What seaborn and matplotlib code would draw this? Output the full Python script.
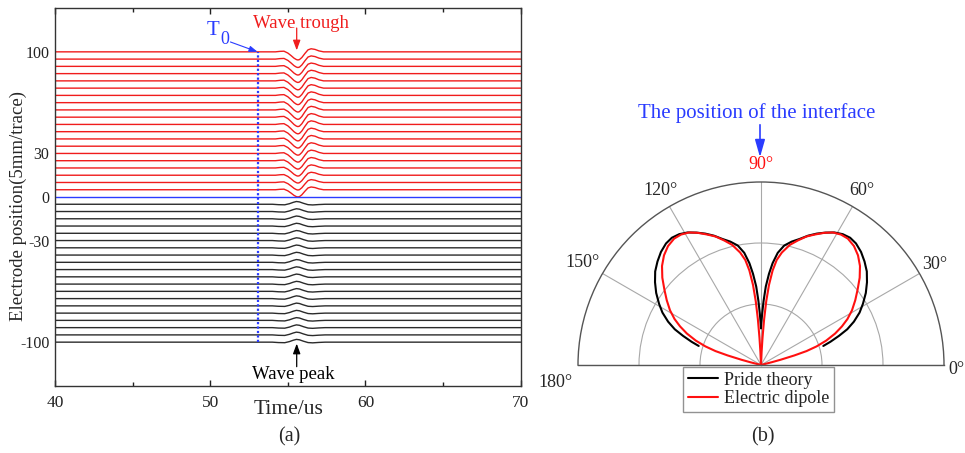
import numpy as np
import pandas as pd
import seaborn as sns
import matplotlib.pyplot as plt
from matplotlib.lines import Line2D
from matplotlib.patches import FancyArrowPatch
from matplotlib.ticker import FixedLocator

sns.set_style('white')
plt.rcParams['font.family'] = ['Liberation Serif', 'DejaVu Serif']
plt.rcParams['axes.unicode_minus'] = False

RED = '#f01c1c'
BLUE = '#2a3cff'
BLACK = '#2b2b2b'

# (a) electrode traces, one every 5 mm
upper_pos = [100, 95, 90, 85, 80, 75, 70, 65, 60, 55, 50, 45, 40, 35, 30, 25, 20, 15, 10, 5]
lower_pos = [-5, -10, -15, -20, -25, -30, -35, -40, -45, -50, -55, -60, -65, -70, -75, -80, -85, -90, -95, -100]
upper_amp = [5.6, 5.8, 6.0, 6.1, 6.2, 6.3, 6.4, 6.5, 6.5, 6.5, 6.5, 6.4, 6.3, 6.2, 6.0, 5.8, 5.6, 5.4, 5.2, 5.0]
lower_amp = [1.9, 1.9, 1.9, 1.9, 1.9, 1.9, 1.9, 1.9, 1.9, 1.9, 1.9, 1.9, 1.9, 1.9, 1.9, 1.9, 1.9, 1.9, 1.9, 1.9]

# pulse shapes (trough / peak scaled to 1)
trough_t = [40, 54.2, 54.5, 54.75, 55.0, 55.2, 55.4, 55.55, 55.65, 55.75, 55.9, 56.1, 56.3, 56.5, 56.75, 57.0, 57.3, 70]
trough_v = [0, 0, 0.06, 0.08, -0.15, -0.45, -0.78, -0.95, -1.0, -0.95, -0.7, -0.2, 0.25, 0.38, 0.3, 0.12, 0, 0]
peak_t = [40, 54.0, 54.4, 54.8, 55.1, 55.35, 55.55, 55.75, 56.0, 56.3, 56.6, 57.0, 57.4, 70]
peak_v = [0, 0, -0.15, -0.2, 0.2, 0.7, 1.0, 0.85, 0.35, -0.15, -0.25, -0.1, 0, 0]

t0 = 53.1
ytick_vals = [100, 30, 0, -30, -100]
ytick_txt = ['100', '30', '0', '-30', '-100']

# (b) radiation patterns, right lobe (degrees, normalised amplitude); left lobe mirrors it
pride_deg = [17.0, 18.5, 20.5, 22.5, 25.0, 28.0, 31.0, 34.5, 38.0, 41.5, 45.0, 48.5, 52.0, 55.0,
             58.0, 61.0, 64.0, 67.0, 70.0, 73.0, 76.0, 79.0, 81.5, 83.5, 85.0, 86.5, 87.7, 88.7,
             89.5, 90.0]
pride_r = [0.356, 0.40, 0.455, 0.51, 0.56, 0.61, 0.65, 0.695, 0.735, 0.772, 0.80, 0.825, 0.843,
           0.849, 0.843, 0.828, 0.805, 0.78, 0.752, 0.72, 0.695, 0.665, 0.62, 0.56, 0.50, 0.43,
           0.35, 0.28, 0.23, 0.20]
dipole_deg = [14.0, 14.5, 15.0, 16.0, 17.0, 18.5, 20.5, 23.0, 25.5, 28.0, 31.0, 34.5, 38.0, 41.5,
              45.0, 48.5, 52.0, 55.5, 58.5, 61.5, 64.5, 67.5, 70.5, 73.5, 76.5, 79.5, 81.5, 83.0,
              84.3, 85.3, 86.1, 86.8, 87.4, 88.0]
dipole_r = [0.0, 0.06, 0.11, 0.19, 0.26, 0.32, 0.38, 0.44, 0.49, 0.535, 0.58, 0.625, 0.67, 0.72,
            0.765, 0.80, 0.825, 0.838, 0.836, 0.824, 0.80, 0.772, 0.745, 0.71, 0.675, 0.625, 0.58,
            0.52, 0.44, 0.35, 0.25, 0.15, 0.07, 0.0]

W, H = 965, 453
fig = plt.figure(figsize=(W / 100, H / 100), dpi=100)

# ---------------- panel (a)
ax1 = fig.add_axes([55 / W, 1 - 385.7 / H, 465.7 / W, 377.4 / H])

rows = []
for pos, amp in zip(upper_pos, upper_amp):
    for t, v in zip(trough_t, trough_v):
        rows.append((pos, 'upper', t, pos + amp * v))
rows.append((0, 'interface', 40, 0))
rows.append((0, 'interface', 70, 0))
for pos, amp in zip(lower_pos, lower_amp):
    for t, v in zip(peak_t, peak_v):
        rows.append((pos, 'lower', t, pos + amp * v))
traces = pd.DataFrame(rows, columns=['pos', 'side', 'time', 'value'])

sns.lineplot(data=traces, x='time', y='value', hue='side', units='pos', estimator=None,
             sort=False, palette={'upper': RED, 'interface': BLUE, 'lower': BLACK},
             legend=False, linewidth=1.0, ax=ax1)

ax1.vlines(t0, -100, 100, colors=BLUE, linestyles=(0, (1, 1)), linewidth=1.6)

ax1.set_xlim(40, 70)
ax1.set_ylim(-130, 130)
ax1.set_xticks([40, 50, 60, 70])
ax1.xaxis.set_minor_locator(FixedLocator([45, 55, 65]))
ax1.set_yticks(ytick_vals)
ax1.set_yticklabels(ytick_txt)
ax1.tick_params(axis='x', which='major', direction='in', length=4.3, width=1, top=True,
                bottom=True, labelsize=12.5, pad=7, colors='#222')
ax1.tick_params(axis='x', which='minor', direction='in', length=2.9, width=1, top=True, bottom=True,
                colors='#222')
ax1.tick_params(axis='y', length=0, labelsize=11.5, pad=4, colors='#222')
ax1.set_xlabel('')
ax1.set_ylabel('')
for s in ax1.spines.values():
    s.set_color('#333')
    s.set_linewidth(1.0)

ax1.annotate('', xy=(53.05, 100), xytext=(51.3, 106.8),
             arrowprops=dict(arrowstyle='-|>,head_length=0.5,head_width=0.18', color=BLUE,
                             lw=0.8, mutation_scale=10, shrinkA=0, shrinkB=0))
ax1.text(50.2, 114.4, 'T', color=BLUE, fontsize=15, ha='center', va='center')
ax1.text(50.95, 108.4, '0', color=BLUE, fontsize=13, ha='center', va='center')

ax1.annotate('', xy=(55.57, 101), xytext=(55.57, 116.4),
             arrowprops=dict(arrowstyle='-|>,head_length=0.6,head_width=0.22', color=RED,
                             lw=0.9, mutation_scale=10, shrinkA=0, shrinkB=0))
ax1.text(55.82, 119.4, 'Wave trough', color=RED, fontsize=13.5, ha='center', va='center')

ax1.annotate('', xy=(55.57, -101), xytext=(55.57, -116.9),
             arrowprops=dict(arrowstyle='-|>,head_length=0.6,head_width=0.22', color='black',
                             lw=0.9, mutation_scale=10, shrinkA=0, shrinkB=0))
ax1.text(55.37, -122.5, 'Wave peak', color='black', fontsize=13.5, ha='center', va='center')

fig.text(18.5 / W, 1 - 206 / H, 'Electrode position(5mm/trace)', rotation=90,
         fontsize=13.5, ha='center', va='center')
fig.text(289 / W, 1 - 409 / H, 'Time/us', fontsize=15.5, ha='center', va='center')
fig.text(289 / W, 1 - 437 / H, '(a)', fontsize=14.5, ha='center', va='center')

# ---------------- panel (b)
# square box; the half disc sits in its middle
ax2 = fig.add_axes([578 / W, 1 - 456.5 / H, 366 / W, 366 / H], projection='polar')
ax2.set_thetamin(0)
ax2.set_thetamax(180)
ax2.set_rlim(0, 1)

pride_th = list(pride_deg) + [180 - d for d in pride_deg[::-1]]
pride_rr = list(pride_r) + list(pride_r[::-1])
dip_th = list(dipole_deg) + [180 - d for d in dipole_deg[::-1]]
dip_rr = list(dipole_r) + list(dipole_r[::-1])
patterns = pd.DataFrame({
    'theta': np.radians(pride_th + dip_th),
    'r': pride_rr + dip_rr,
    'model': ['Pride theory'] * len(pride_th) + ['Electric dipole'] * len(dip_th),
})
sns.lineplot(data=patterns, x='theta', y='r', hue='model', sort=False, estimator=None,
             palette={'Pride theory': 'black', 'Electric dipole': '#ff1010'},
             legend=False, linewidth=1.5, ax=ax2)
ax2.set_xlabel('')
ax2.set_ylabel('')

ax2.set_xticks(np.radians([0, 30, 60, 90, 120, 150, 180]))
ax2.set_xticklabels([])
ax2.xaxis.set_minor_locator(FixedLocator(np.radians([15, 45, 75, 105, 135, 165])))
ax2.tick_params(axis='x', which='major', length=0)
ax2.tick_params(axis='x', which='minor', direction='in', length=3.5, width=0.8, colors='#555')
ax2.set_yticks([1 / 3, 2 / 3])
ax2.set_yticklabels([])
ax2.grid(True, color='#a8a8a8', linewidth=0.8)
for s in ax2.spines.values():
    s.set_color('#555')
    s.set_linewidth(1.0)

for ang, rr in [(30, 1.093), (60, 1.10), (120, 1.10), (150, 1.125)]:
    ax2.text(np.radians(ang), rr, f'{ang}°', fontsize=13, ha='center', va='center', clip_on=False)
ax2.text(np.radians(90), 1.096, '90°', color='#ff1010', fontsize=13, ha='center', va='center',
         clip_on=False)
ax2.annotate('0°', xy=(0, 1), xytext=(12, -5), textcoords='offset pixels', fontsize=13,
             ha='center', va='center', annotation_clip=False)
ax2.annotate('180°', xy=(np.pi, 1), xytext=(-23, -18), textcoords='offset pixels', fontsize=13,
             ha='center', va='center', annotation_clip=False)

fig.text(757 / W, 1 - 113.5 / H, 'The position of the interface', color=BLUE, fontsize=15,
         ha='center', va='center')
fig.add_artist(FancyArrowPatch(
    (760 / W, 1 - 122 / H), (760 / W, 1 - 160 / H), transform=fig.transFigure,
    arrowstyle='-|>,head_length=0.7,head_width=0.2', mutation_scale=15, color=BLUE, lw=1.2))

handles = [Line2D([], [], color='black', lw=1.5), Line2D([], [], color='#ff1010', lw=1.5)]
leg = fig.legend(handles, ['Pride theory', 'Electric dipole'], loc='upper left',
                 bbox_to_anchor=(683 / W, 1 - 367 / H), fontsize=13, frameon=True,
                 fancybox=False, edgecolor='#777', handlelength=1.7, handletextpad=0.3,
                 borderpad=0.25, labelspacing=0.1, borderaxespad=0)
leg.get_frame().set_linewidth(1.0)

fig.text(763 / W, 1 - 437 / H, '(b)', fontsize=14.5, ha='center', va='center')

fig.savefig('out.png', dpi=100)
